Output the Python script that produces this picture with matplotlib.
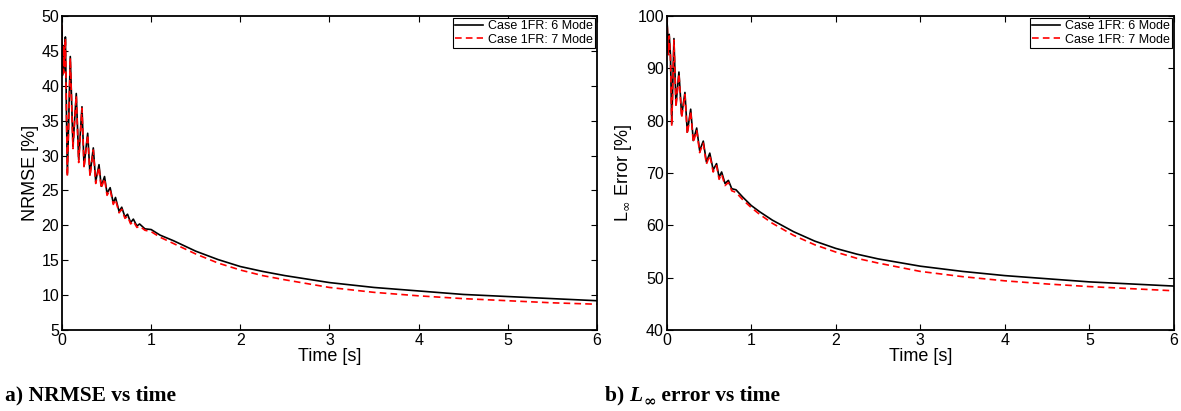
import matplotlib
matplotlib.use("Agg")
import matplotlib.pyplot as plt

plt.rcParams['font.family'] = ['Liberation Sans', 'DejaVu Sans']

# ---- data ----
# a) NRMSE vs time
t_nrmse = [0, 0.005, 0.012, 0.018, 0.025, 0.031, 0.038, 0.06, 0.093, 0.123,
           0.16, 0.187, 0.224, 0.247, 0.288, 0.314, 0.351, 0.378, 0.415, 0.44,
           0.477, 0.505, 0.54, 0.575, 0.6, 0.64, 0.67, 0.706, 0.735, 0.77,
           0.8, 0.84, 0.87, 0.93, 1.0, 1.1, 1.25, 1.5, 1.75, 2.0, 2.25, 2.5,
           3.0, 3.5, 4.0, 4.5, 5.0, 5.5, 6.0]
nrmse_6mode = [48.3, 41.5, 45.5, 42.0, 45.8, 43.0, 47.0, 27.3, 44.2, 31.3,
               38.9, 29.4, 37.0, 28.5, 33.2, 27.3, 31.1, 26.3, 28.7, 25.6,
               27.0, 24.6, 25.4, 23.2, 24.0, 22.0, 22.6, 21.2, 21.6, 20.4,
               20.9, 19.9, 20.2, 19.5, 19.4, 18.6, 17.8, 16.3, 15.1, 14.1, 13.4, 12.8,
               11.8, 11.1, 10.6, 10.1, 9.8, 9.5, 9.2]
nrmse_7mode = [48.7, 41.3, 45.8, 41.8, 45.5, 42.8, 46.8, 27.0, 44.0, 31.0,
               38.6, 29.0, 36.8, 28.2, 33.0, 27.0, 30.8, 26.0, 28.4, 25.3,
               26.7, 24.3, 25.1, 23.0, 23.7, 21.8, 22.3, 21.0, 21.3, 20.2,
               20.6, 19.7, 19.9, 19.3, 19.1, 18.3, 17.4, 15.9, 14.6, 13.6, 12.8, 12.2,
               11.1, 10.4, 9.9, 9.5, 9.2, 8.9, 8.7]

# b) L-infinity error vs time
t_linf = [0, 0.008, 0.02, 0.03, 0.045, 0.06, 0.086, 0.11, 0.145, 0.177,
          0.216, 0.244, 0.284, 0.315, 0.355, 0.39, 0.433, 0.47, 0.51, 0.55,
          0.59, 0.62, 0.65, 0.69, 0.73, 0.77, 0.82, 0.9, 1.0, 1.1, 1.25, 1.5,
          1.75, 2.0, 2.25, 2.5, 3.0, 3.5, 4.0, 4.5, 5.0, 5.5, 6.0]
linf_6mode = [99.8, 98.0, 93.0, 96.5, 92.5, 79.4, 95.7, 83.0, 89.3, 81.0,
              85.4, 77.8, 82.2, 76.2, 78.6, 74.3, 76.1, 72.1, 73.8, 70.6,
              71.8, 69.2, 70.2, 68.0, 68.6, 67.0, 66.8, 65.4, 63.8, 62.6, 61.0, 58.8,
              57.0, 55.6, 54.5, 53.6, 52.2, 51.2, 50.4, 49.8, 49.2, 48.8, 48.4]
linf_7mode = [100.0, 97.6, 92.6, 96.2, 92.0, 79.0, 95.4, 82.6, 89.0, 80.6,
              85.0, 77.4, 81.8, 75.8, 78.2, 73.9, 75.7, 71.7, 73.4, 70.2,
              71.4, 68.8, 69.8, 67.6, 68.2, 66.6, 66.3, 64.9, 63.4, 62.1, 60.4, 58.1,
              56.3, 54.9, 53.7, 52.8, 51.2, 50.2, 49.4, 48.8, 48.3, 47.9, 47.5]

legend_labels = ['Case 1FR: 6 Mode', 'Case 1FR: 7 Mode']


def style_axes(ax):
    # MATLAB-like box with inward ticks on every side
    for sp in ax.spines.values():
        sp.set_linewidth(1.3)
    ax.tick_params(direction='in', top=True, right=True, length=4,
                   width=0.8, labelsize=11.5, pad=2)


fig = plt.figure(figsize=(11.81, 4.11), dpi=100)
ax1 = fig.add_axes([0.0525, 0.197, 0.4530, 0.764])
ax2 = fig.add_axes([0.5645, 0.197, 0.4295, 0.764])

ax1.plot(t_nrmse, nrmse_6mode, color='black', lw=1.2, label=legend_labels[0])
ax1.plot(t_nrmse, nrmse_7mode, color='red', lw=1.2, dashes=(4, 2.5),
         label=legend_labels[1])
ax1.set_xlim(0, 6)
ax1.set_ylim(5, 50)
ax1.set_yticks(range(5, 51, 5))
ax1.set_xlabel('Time [s]', fontsize=13, labelpad=0)
ax1.set_ylabel('NRMSE [%]', fontsize=13, labelpad=2)

ax2.plot(t_linf, linf_6mode, color='black', lw=1.2, label=legend_labels[0])
ax2.plot(t_linf, linf_7mode, color='red', lw=1.2, dashes=(4, 2.5),
         label=legend_labels[1])
ax2.set_xlim(0, 6)
ax2.set_ylim(40, 100)
ax2.set_yticks(range(40, 101, 10))
ax2.set_xlabel('Time [s]', fontsize=13, labelpad=0)
ax2.set_ylabel(r'L$_\infty$ Error [%]', fontsize=13, labelpad=2)

for ax in (ax1, ax2):
    style_axes(ax)
    leg = ax.legend(loc='upper right', fontsize=9, fancybox=False,
                    framealpha=1, borderaxespad=0.15, borderpad=0.2,
                    handlelength=2.2, handletextpad=0.4, labelspacing=0.1)
    leg.get_frame().set_edgecolor('black')
    leg.get_frame().set_linewidth(0.8)

# captions under the panels
cap_font = dict(family='Liberation Serif', fontweight='bold', fontsize=15.5)
fig.text(0.004, 0.025, 'a) NRMSE vs time', **cap_font)

t0 = fig.text(0.512, 0.025, 'b) ', **cap_font)
pL = ax2.annotate('L', xy=(1, 0), xycoords=t0, va='bottom', ha='left',
                  annotation_clip=False, fontstyle='italic', **cap_font)
pInf = ax2.annotate('\u221e', xy=(1, 0), xycoords=pL, xytext=(0.5, -2.5),
                    textcoords='offset points', va='bottom', ha='left',
                    annotation_clip=False, family='DejaVu Serif',
                    fontweight='bold', fontsize=11)
ax2.annotate(' error vs time', xy=(1, 0), xycoords=pInf, xytext=(0, 2.5),
             textcoords='offset points', va='bottom', ha='left',
             annotation_clip=False, **cap_font)

fig.savefig('out.png', dpi=100)
